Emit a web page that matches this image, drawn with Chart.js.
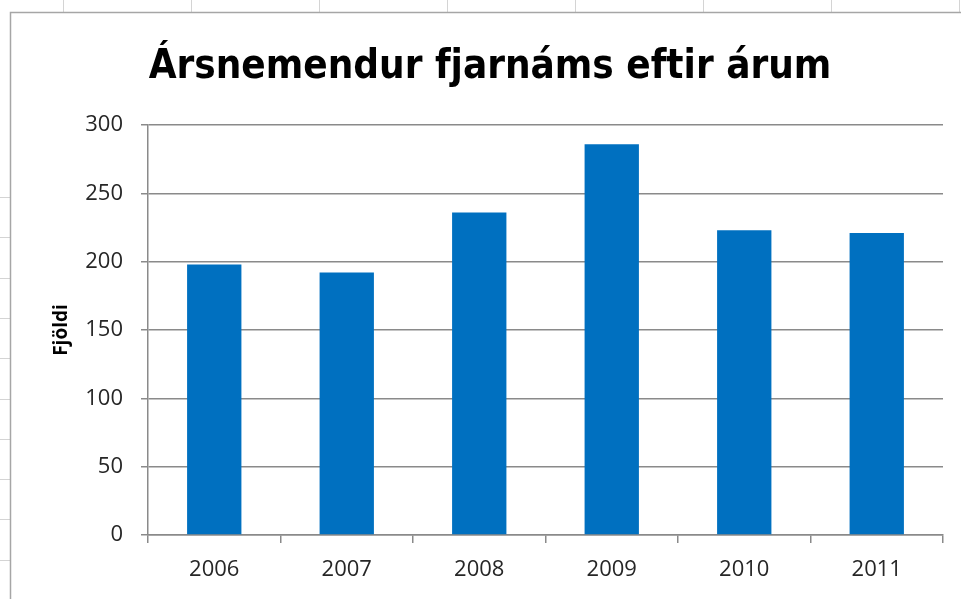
<!DOCTYPE html>
<html>
<head>
<meta charset="utf-8">
<script src="https://cdn.jsdelivr.net/npm/chart.js@4.4.0/dist/chart.umd.min.js"></script>
<style>
  html, body { margin: 0; padding: 0; background: #fff; }
  #wrap { width: 961px; height: 599px; }
</style>
</head>
<body>
<div id="wrap"><canvas id="c"></canvas></div>
<script>
// gögn
const years = ['2006', '2007', '2008', '2009', '2010', '2011'];
const students = [198, 192, 236, 286, 223, 221];
const yTicks = [0, 50, 100, 150, 200, 250, 300];

const chartTitle = 'Ársnemendur fjarnáms eftir árum';
const yTitle = 'Fjöldi';

const gridGray = '#8a8a8a';
const labelFont = "'Open Sans', 'Liberation Sans', sans-serif";

// bakgrunnur: brot af töflureikni og rammi grafsins
const sheetBackdrop = {
    id: 'sheetBackdrop',
    beforeDraw(chart) {
        const ctx = chart.ctx;
        ctx.save();
        ctx.fillStyle = '#fff';
        ctx.fillRect(0, 0, chart.width, chart.height);
        ctx.strokeStyle = '#d4d4d4';
        ctx.lineWidth = 1;
        // dálkalínur að ofan
        for (let x = 63; x < chart.width; x += 128) {
            ctx.beginPath();
            ctx.moveTo(x + 0.5, 0);
            ctx.lineTo(x + 0.5, 12);
            ctx.stroke();
        }
        // raðalínur til vinstri
        for (let y = 197; y < chart.height; y += 40.3) {
            ctx.beginPath();
            ctx.moveTo(0, Math.round(y) + 0.5);
            ctx.lineTo(10, Math.round(y) + 0.5);
            ctx.stroke();
        }
        // rammi
        ctx.strokeStyle = '#a6a6a6';
        ctx.lineWidth = 1.5;
        ctx.beginPath();
        ctx.moveTo(10.5, chart.height);
        ctx.lineTo(10.5, 12.5);
        ctx.lineTo(chart.width, 12.5);
        ctx.stroke();
        ctx.restore();
    }
};

new Chart(document.getElementById('c'), {
    type: 'bar',
    data: {
        labels: years,
        datasets: [{
            data: students,
            backgroundColor: '#0070c0',
            borderWidth: 0,
            categoryPercentage: 1,
            barPercentage: 0.41
        }]
    },
    options: {
        responsive: true,
        maintainAspectRatio: false,
        animation: false,
        // vinstri 37 svo titillinn lendi á sama stað og í frumriti
        layout: { padding: { left: 37, right: 18, top: 20, bottom: 0 } },
        plugins: {
            legend: { display: false },
            tooltip: { enabled: false },
            title: {
                display: true,
                text: chartTitle,
                color: '#000',
                font: { family: "'DejaVu Sans Condensed', 'DejaVu Sans', sans-serif", size: 40, weight: 'bold' },
                padding: { top: 24, bottom: 33 }
            }
        },
        scales: {
            x: {
                grid: {
                    display: true,
                    offset: true,
                    drawOnChartArea: false,
                    tickLength: 8,
                    color: gridGray,
                    lineWidth: 1.5
                },
                border: { color: gridGray, width: 1.5 },
                ticks: { color: '#262626', font: { family: labelFont, size: 22 }, padding: 14 },
                afterFit(scale) { scale.height = 64; }
            },
            y: {
                min: 0,
                max: 300,
                afterBuildTicks(scale) { scale.ticks = yTicks.map(v => ({ value: v })); },
                grid: { color: gridGray, lineWidth: 1.5, tickLength: 7 },
                border: { color: gridGray, width: 1.5 },
                ticks: { color: '#262626', font: { family: labelFont, size: 22 }, padding: 18 },
                title: {
                    display: true,
                    text: yTitle,
                    color: '#000',
                    font: { family: "'Open Sans', sans-serif", size: 19, weight: 'bold' },
                    padding: { top: 13, bottom: 0 }
                },
                afterFit(scale) { scale.width = 111; }
            }
        }
    },
    plugins: [sheetBackdrop]
});
</script>
</body>
</html>
